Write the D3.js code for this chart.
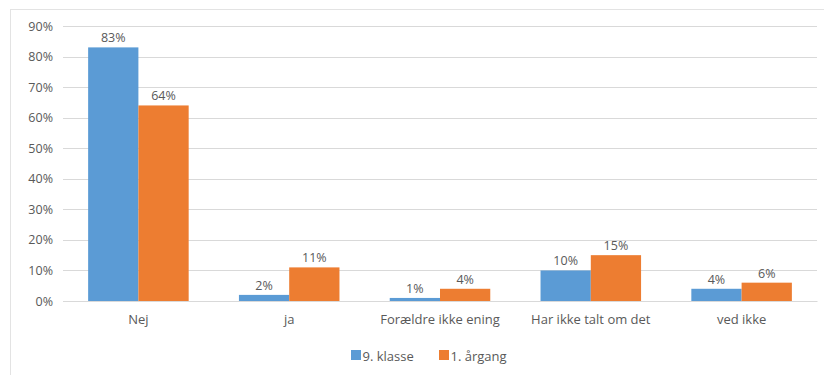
<!DOCTYPE html>
<html><head><meta charset="utf-8">
<script src="https://cdn.jsdelivr.net/npm/d3@7"></script>
<style>body{margin:0;background:#fff;}svg{display:block;}text{font-family:"Open Sans","Liberation Sans",sans-serif;fill:#595959;}</style>
</head><body><svg width="824" height="375"></svg>
<script>
const categories = ["Nej", "ja", "Forældre ikke ening", "Har ikke talt om det", "ved ikke"];
const seriesNames = ["9. klasse", "1. årgang"];
const klasse9 = [83, 2, 1, 10, 4];
const aargang1 = [64, 11, 4, 15, 6];
const yTicks = [0, 10, 20, 30, 40, 50, 60, 70, 80, 90];
const colors = ["#5B9BD5", "#ED7D31"];

const svg = d3.select("svg");
svg.append("rect").attr("x",10.5).attr("y",9.5).attr("width",830).attr("height",380)
  .attr("fill","none").attr("stroke","#e3e3e3");

const m = {left:63, right:817, top:26, bottom:301};
const x = d3.scaleBand().domain(categories).range([m.left, m.right]).paddingInner(0).paddingOuter(0);
const x1 = d3.scaleBand().domain(seriesNames).range([0, x.bandwidth()]).paddingInner(0).paddingOuter(0.5);
const y = d3.scaleLinear().domain([0, 90]).range([m.bottom, m.top]);

// grid
svg.append("g").selectAll("line").data(yTicks).join("line")
  .attr("x1", m.left).attr("x2", m.right)
  .attr("y1", d => Math.round(y(d))+0.5).attr("y2", d => Math.round(y(d))+0.5)
  .attr("stroke", "#d9d9d9").attr("stroke-width", 1);

// y labels
const yAxis = d3.axisLeft(y).tickValues(yTicks).tickFormat(d => d + "%").tickSize(0).tickPadding(10);
const ga = svg.append("g").attr("transform", `translate(${m.left},0)`).call(yAxis);
ga.select(".domain").remove();
ga.selectAll("text").style("font-size","12.5px").attr("fill","#595959").style("font-family",'"Open Sans",sans-serif');

const data = categories.map((c,i) => ({cat:c, vals:[{s:seriesNames[0], v:klasse9[i]},{s:seriesNames[1], v:aargang1[i]}]}));
const groups = svg.append("g").selectAll("g").data(data).join("g")
  .attr("transform", d => `translate(${x(d.cat)},0)`);
groups.selectAll("rect").data(d => d.vals).join("rect")
  .attr("x", d => x1(d.s)).attr("width", x1.bandwidth())
  .attr("y", d => y(d.v)).attr("height", d => y(0) - y(d.v))
  .attr("fill", (d,i) => colors[i]);
groups.selectAll("text.val").data(d => d.vals).join("text").attr("class","val")
  .attr("x", d => x1(d.s) + x1.bandwidth()/2).attr("y", d => y(d.v) - 5)
  .attr("text-anchor","middle").style("font-size","12.5px").text(d => d.v + "%");

// x labels
const xAxis = d3.axisBottom(x).tickSize(0).tickPadding(14);
const gx = svg.append("g").attr("transform", `translate(0,${m.bottom})`).call(xAxis);
gx.select(".domain").attr("stroke","#d9d9d9");
gx.selectAll("text").style("font-size","13px").attr("fill","#595959").style("font-family",'"Open Sans",sans-serif');

// legend
const legX = [351, 439];
const lg = svg.append("g").selectAll("g").data(seriesNames).join("g")
  .attr("transform", (d,i) => `translate(${legX[i]},350)`);
lg.append("rect").attr("width",10).attr("height",10).attr("fill",(d,i)=>colors[i]);
lg.append("text").attr("x",11.5).attr("y",10.5).style("font-size","13px").text(d => d);
</script></body></html>
